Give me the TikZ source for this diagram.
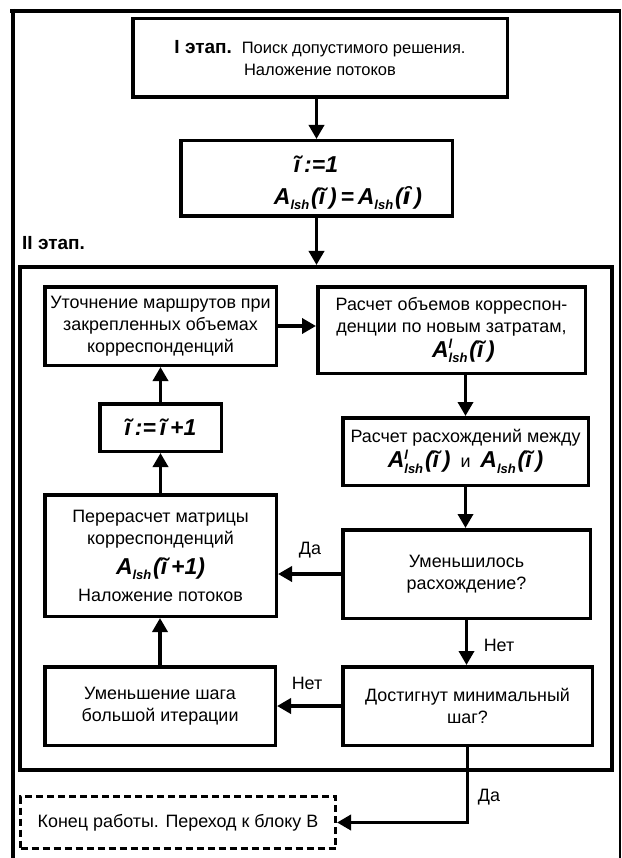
\documentclass[tikz,border=0pt]{standalone}
\usepackage{fontspec}
\setmainfont{Liberation Sans}
\newfontfamily\djv{DejaVu Sans}
\usetikzlibrary{arrows.meta}

% text and formula fonts
\newcommand\bodyfont{\fontsize{17.9}{22}\selectfont}
\newcommand\topfont{\fontsize{16.5}{22}\selectfont}
\newcommand\stagefont{\fontsize{19}{22}\selectfont\bfseries}
\newcommand\fmlfont{\fontsize{23}{26}\selectfont\bfseries\itshape}
\newcommand\subfont{\fontsize{13}{13}\selectfont\bfseries\itshape}
% i with a tilde
\newcommand\ti{ĩ}
% A with index lsh, and with an extra upper index l
\newcommand\Alsh{A\raisebox{-0.25em}{\subfont lsh}\hspace{0.08em}}
\newcommand\Alshl{A\rlap{\raisebox{0.36em}{\subfont l}}\raisebox{-0.25em}{\subfont lsh}\hspace{0.08em}}
% i with an inverted breve
\newcommand\ibreve{{\djv\bfseries\itshape ȋ}}

\begin{document}
\begin{tikzpicture}[x=1pt,y=-1pt,
  box/.style={draw, line width=3.5pt, align=center, inner sep=0pt, font=\bodyfont},
  endbox/.style={draw, line width=3pt, dash pattern=on 7pt off 4pt, inner sep=0pt, font=\bodyfont},
  arr/.style={line width=3.5pt, -{Triangle[length=14pt,width=15pt]}},
  lbl/.style={inner sep=0pt, font=\bodyfont},
  frame/.style={line width=4pt}]
\useasboundingbox (0,0) rectangle (621,858);

% page frame
\coordinate (fa) at (10,11);
\coordinate (fb) at (621,11);
\coordinate (fc) at (12.5,9);
\coordinate (fd) at (12.5,858);
\coordinate (fe) at (620,11);
\coordinate (ff) at (620,858);
\draw[frame] (fa) -- (fb);
\draw[frame] (fc) -- (fd);
\draw[line width=1.2pt] (fe) -- (ff);

% stage I
\node[box, font=\topfont, minimum width=374.5pt, minimum height=78.5pt] (t1) at (320,58)
  {{\stagefont I этап.}\hspace{0.6em}Поиск допустимого решения.\\Наложение потоков};
\node[box, minimum width=271.5pt, minimum height=75.5pt] (t2) at (316.5,178.5) {};
\node[inner sep=0pt] (t2a) at (316,164) {\fmlfont \ti\,:=1};
\node[inner sep=0pt] (t2b) at (348,198) {\fmlfont \Alsh(\ti\,)\,=\,\Alsh(\ibreve\,)};

% stage II
\node[inner sep=0pt, anchor=west, font=\stagefont] (st2) at (22,243) {II этап.};
\node[draw, line width=4pt, minimum width=592pt, minimum height=503pt] (big) at (316,518.5) {};

\node[box, minimum width=231.5pt, minimum height=78.5pt] (u) at (160.5,326)
  {Уточнение маршрутов при\\закрепленных объемах\\корреспонденций};
\node[box, minimum width=267.5pt, minimum height=86.5pt] (ro) at (451.5,330)
  {Расчет объемов корреспон-\\денции по новым затратам,\\[3pt]\hspace*{24pt}{\fmlfont\Alshl(\ti\,)}};
\node[box, minimum width=121.5pt, minimum height=47.5pt] (ii) at (160.5,427.5)
  {\fmlfont \ti\,:=\,\ti\,+1};
\node[box, minimum width=245.5pt, minimum height=67.5pt] (rr) at (465.5,451.5)
  {Расчет расхождений между\\[3pt]{\fmlfont\Alshl(\ti\,)}\ \ и\ \ {\fmlfont\Alsh(\ti\,)}};
\node[box, minimum width=231.5pt, minimum height=121.5pt] (pm) at (160.5,555.5)
  {Перерасчет матрицы\\корреспонденций\\[8pt]{\fmlfont\Alsh(\ti\,+1)}\\[5pt]Наложение потоков};
\node[box, minimum width=247.5pt, minimum height=88.5pt] (um) at (466.5,574)
  {Уменьшилось\\расхождение?};
\node[box, minimum width=230.5pt, minimum height=78.5pt] (us) at (160,706)
  {Уменьшение шага\\большой итерации};
\node[box, minimum width=249.5pt, minimum height=78.5pt] (dm) at (467.5,706)
  {Достигнут минимальный\\шаг?};
\node[endbox, minimum width=315pt, minimum height=52pt] (fin) at (178,822.5)
  {Конец работы. Переход к блоку В};

% branch labels
\node[lbl] (yes1) at (310,550) {Да};
\node[lbl] (no1) at (499,645) {Нет};
\node[lbl] (no2) at (307,683) {Нет};
\node[lbl] (yes2) at (489,797) {Да};

% connectors
\draw[arr] (t2.north |- t1.south) -- (t2.north);
\draw[arr] (t2.south) -- (t2.south |- big.north);
\draw[arr] (u.east) -- (u.east -| ro.west);
\draw[arr] (rr.north |- ro.south) -- (rr.north);
\draw[arr] (rr.south) -- (rr.south |- um.north);
\draw[arr] (um.south) -- (um.south |- dm.north);
\draw[arr] (um.west) -- (um.west -| pm.east);
\draw[arr] (dm.west) -- (dm.west -| us.east);
\draw[arr] (us.north) -- (us.north |- pm.south);
\draw[arr] (pm.north) -- (pm.north |- ii.south);
\draw[arr] (ii.north) -- (ii.north |- u.south);
\draw[arr] (dm.south) |- (fin.east);
\end{tikzpicture}
\end{document}
